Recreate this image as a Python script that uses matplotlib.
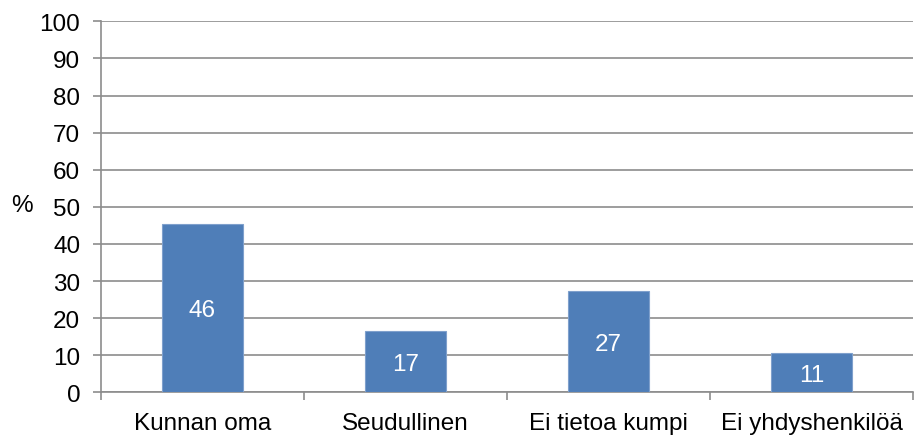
import numpy as np
import matplotlib.pyplot as plt

# Tiedot
categories = ['Kunnan oma', 'Seudullinen', 'Ei tietoa kumpi', 'Ei yhdyshenkilöä']
values = [45.4, 16.5, 27.2, 10.6]
labels = ['46', '17', '27', '11']

plt.rcParams['font.family'] = ['Liberation Sans', 'DejaVu Sans']

fig = plt.figure(figsize=(9.23, 4.39), dpi=100)
ax = fig.add_axes([0.1094, 0.104, 0.8798, 0.845])

x = np.arange(len(categories))
bars = ax.bar(x, values, width=0.4, color='#4F7EB8', edgecolor='#7FA0CC',
              linewidth=0.8, zorder=3)

for b, lab in zip(bars, labels):
    ax.text(b.get_x() + b.get_width() / 2, b.get_height() / 2 - 0.6, lab,
            ha='center', va='center', color='white', fontsize=17.5, zorder=4)

ax.set_xlim(-0.5, len(categories) - 0.5)
ax.set_ylim(0, 100)
ax.set_yticks(np.arange(0, 101, 10))
ax.set_xticks(x)
ax.set_xticklabels(categories)
ax.set_xticks(np.arange(-0.5, len(categories), 1), minor=True)

ax.grid(axis='y', color='#8C8C8C', linewidth=1.2, zorder=0)
ax.tick_params(axis='y', labelsize=17.5, length=6, color='#8C8C8C', width=1.2, pad=9)
ax.tick_params(axis='x', which='major', length=0, labelsize=17.5, pad=14)
ax.tick_params(axis='x', which='minor', length=6, color='#8C8C8C', width=1.2)

for s in ['top', 'right']:
    ax.spines[s].set_visible(False)
ax.spines['left'].set_color('#8C8C8C')
ax.spines['left'].set_linewidth(1.2)
ax.spines['bottom'].set_color('#8C8C8C')
ax.spines['bottom'].set_linewidth(1.2)

ax.set_ylabel('%', rotation=0, fontsize=17.5, va='center', ha='center')
ax.yaxis.set_label_coords(-0.097, 0.505)

fig.savefig('out.png', dpi=100)
